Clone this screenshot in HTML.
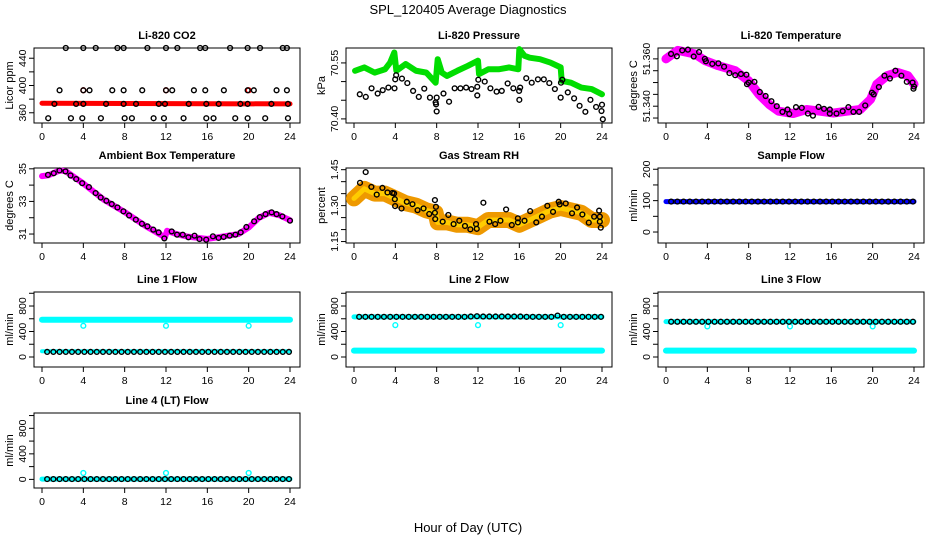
<!DOCTYPE html>
<html><head><meta charset="utf-8"><style>
body{margin:0;background:#fff}
svg{display:block;font-family:"Liberation Sans",sans-serif}
</style></head><body>
<svg id="c" width="936" height="540" viewBox="0 0 936 540">
<rect width="936" height="540" fill="#fff"/>
<text x="468" y="14" text-anchor="middle" font-size="13">SPL_120405  Average Diagnostics</text>
<text x="468" y="532" text-anchor="middle" font-size="13">Hour of Day (UTC)</text>
</svg>
<script>
// ---- data ----
const xTicks=[0,4,8,12,16,20,24];
const co2Hours=[2.3,4.0,5.2,7.3,7.9,10.2,12.0,13.1,15.3,15.8,18.2,19.9,21.1,23.3,23.7,1.7,4.0,4.6,6.8,7.9,9.7,12.0,12.6,14.7,15.8,17.6,19.9,20.5,22.7,23.7,1.2,3.3,4.0,6.2,7.9,9.1,11.3,11.9,14.2,15.9,17.1,19.2,19.9,22.2,23.8,0.6,2.8,3.9,5.7,8.0,8.7,10.8,11.8,13.7,15.9,16.6,18.7,19.9,21.6,23.8];
const co2Values=[455,455,455,455,455,455,455,455,455,455,455,455,455,455,455,393,393,393,393,393,393,393,393,393,393,393,393,393,393,393,373,373,373,373,373,373,373,373,373,373,373,373,373,373,373,352,352,352,352,352,352,352,352,352,352,352,352,352,352,352];
const co2BandHours=[0,24];
const co2BandValues=[374,373];
const co2RedHours=[4.0,12.0,20.0];
const co2RedValues=[393,393,393];
const presBandHours=[0.1,1,2,3,3.5,3.9,4.1,5,6,7,7.9,8.1,8.5,9,10,11,12,12.1,13,14,15,15.9,16.0,16.5,17,18,19,20,20.1,21,22,23,24];
const presBandValues=[70.529,70.538,70.524,70.533,70.551,70.578,70.529,70.547,70.529,70.524,70.497,70.560,70.524,70.515,70.529,70.542,70.556,70.520,70.533,70.533,70.538,70.533,70.587,70.569,70.564,70.560,70.551,70.538,70.502,70.497,70.484,70.480,70.466];
const presHours=[0.56,1.14,1.7,2.29,2.78,3.33,3.92,3.99,4.08,4.64,5.16,5.72,6.27,6.8,7.35,7.9,7.94,8.0,8.0,8.66,9.2,9.74,10.3,10.85,11.37,11.93,11.93,12.03,12.65,13.2,13.8,14.3,14.87,15.42,15.98,16.0,16.08,16.67,17.2,17.8,18.37,18.9,19.44,20.0,20.03,20.16,20.69,21.3,21.83,22.39,22.88,23.43,23.95,24.0,24.08];
const presValues=[70.466,70.459,70.482,70.468,70.477,70.484,70.482,70.506,70.517,70.508,70.496,70.475,70.459,70.481,70.457,70.444,70.439,70.457,70.420,70.468,70.446,70.482,70.482,70.484,70.480,70.486,70.463,70.505,70.500,70.482,70.473,70.475,70.495,70.482,70.475,70.451,70.484,70.509,70.497,70.506,70.506,70.496,70.480,70.457,70.497,70.505,70.471,70.455,70.435,70.419,70.451,70.432,70.421,70.438,70.399];
const tempBandHours=[0,1.14,2.78,3.76,5.07,6.7,8.0,9.0,10.0,10.9,12.3,13.6,14.9,16.2,17.5,18.8,19.8,20.4,21.4,22.4,23.4,24];
const tempBandValues=[51.3600,51.3636,51.3621,51.3593,51.3571,51.3550,51.3507,51.3450,51.3407,51.3379,51.3369,51.3386,51.3379,51.3371,51.3379,51.3386,51.3429,51.3493,51.3529,51.3543,51.3529,51.3493];
const tempHours=[0.49,1.05,1.57,2.12,2.68,3.2,3.76,3.86,4.48,5.07,5.62,6.14,6.7,7.25,7.78,7.84,8.0,8.56,9.08,9.64,10.2,10.72,11.27,11.76,11.93,12.58,13.14,13.73,14.22,14.77,15.29,15.85,15.85,16.5,17.1,17.65,18.14,18.69,19.28,19.93,20.1,20.6,21.14,21.67,22.2,22.78,23.3,23.86,23.95,24.0];
const tempValues=[51.3621,51.3611,51.3636,51.3639,51.3610,51.3629,51.3600,51.3590,51.3579,51.3581,51.3567,51.3540,51.3531,51.3536,51.3533,51.3493,51.3500,51.3503,51.3460,51.3443,51.3421,51.3400,51.3376,51.3386,51.3367,51.3396,51.3393,51.3369,51.3360,51.3397,51.3389,51.3369,51.3386,51.3369,51.3379,51.3396,51.3376,51.3376,51.3403,51.3457,51.3450,51.3481,51.3529,51.3517,51.3550,51.3529,51.3503,51.3500,51.3474,51.3483];
const ambBandHours=[0,0.6,1.7,2.3,4,6,8,10,11.9,12.1,13,14,16,17,19,20,21,22,23,24];
const ambBandValues=[34.55,34.6,34.9,34.85,34.1,33.1,32.35,31.5,30.8,31.2,31.0,30.85,30.7,30.8,31.0,31.4,32.0,32.3,32.15,31.85];
const ambHours=[0.58,1.14,1.69,2.27,2.76,3.31,3.89,4.54,5.19,5.68,6.23,6.75,7.3,7.88,8.43,9.08,9.67,10.2,10.77,11.29,11.84,12.55,13.07,13.62,14.17,14.76,15.24,15.89,16.54,17.09,17.58,18.16,18.72,19.23,19.78,20.53,21.08,21.63,22.22,22.7,23.26,24];
const ambValues=[34.63,34.73,34.9,34.84,34.59,34.37,34.12,33.88,33.51,33.24,33.04,32.84,32.63,32.39,32.14,31.88,31.63,31.47,31.27,31.10,30.73,31.16,30.96,30.96,30.8,30.9,30.69,30.65,30.86,30.76,30.82,30.9,30.96,31.1,31.43,31.78,32.04,32.22,32.33,32.22,32.08,31.82];
const rhBandHours=[0,1,2,3,4,5,6,7,7.9,8.1,9,10,11,12,13,14,15,16,17,18,19,20,21,22,23,24];
const rhBandValues=[1.33,1.37,1.35,1.35,1.33,1.31,1.30,1.28,1.27,1.23,1.23,1.22,1.22,1.21,1.24,1.24,1.24,1.22,1.24,1.26,1.28,1.29,1.28,1.27,1.24,1.24];
const rhHours=[0.58,1.13,1.68,2.2,2.75,3.24,3.72,3.88,3.95,3.98,4.6,5.11,5.66,6.15,6.73,7.28,7.83,7.83,7.86,7.93,8.58,9.13,9.64,10.19,10.74,11.26,11.81,11.88,12.52,13.11,13.66,14.17,14.72,15.27,15.86,15.86,16.5,17.05,17.64,18.19,18.71,19.26,19.81,19.9,20.49,21.1,21.59,22.1,22.72,23.24,23.72,23.79,23.88,23.79];
const rhValues=[1.395,1.440,1.378,1.346,1.374,1.355,1.353,1.351,1.327,1.298,1.288,1.316,1.306,1.281,1.288,1.265,1.270,1.323,1.244,1.295,1.233,1.261,1.223,1.237,1.215,1.201,1.223,1.203,1.312,1.233,1.223,1.237,1.284,1.219,1.230,1.247,1.237,1.277,1.230,1.254,1.299,1.274,1.316,1.305,1.309,1.268,1.292,1.263,1.229,1.254,1.279,1.233,1.208,1.254];
const flowHours=[0.5,1.1,1.7,2.3,2.9,3.5,4.1,4.7,5.3,5.9,6.5,7.1,7.7,8.3,8.9,9.5,10.1,10.7,11.3,11.9,12.5,13.1,13.7,14.3,14.9,15.5,16.1,16.7,17.3,17.9,18.5,19.1,19.7,20.3,20.9,21.5,22.1,22.7,23.3,23.9];
const sampleFlowValues=[97,97,97,97,97,97,97,97,97,97,97,97,97,97,97,97,97,97,97,97,97,97,97,97,97,97,97,97,97,97,97,97,97,97,97,97,97,97,97,97];
const line1Values=[80,80,80,80,80,80,80,80,80,80,80,80,80,80,80,80,80,80,80,80,80,80,80,80,80,80,80,80,80,80,80,80,80,80,80,80,80,80,80,80];
const line2Values=[630,630,630,630,630,630,630,630,630,630,630,630,630,630,630,630,630,630,635,640,635,635,635,635,635,635,635,630,630,630,630,630,650,630,630,630,630,630,630,630];
const line3Values=[553,553,553,553,553,553,553,553,553,553,553,553,553,553,553,553,553,553,553,553,553,553,553,553,553,553,553,553,553,553,553,553,553,553,553,553,553,553,553,553];
const line4Values=[5,5,5,5,5,5,5,5,5,5,5,5,5,5,5,5,5,5,5,5,5,5,5,5,5,5,5,5,5,5,5,5,5,5,5,5,5,5,5,5];
const bandEndHours=[0,24];
const sampleBand=[97,97];
const line1HighBand=[585,585];
const line1LowBand=[90,90];
const line2HighBand=[630,630];
const line2LowBand=[100,100];
const line3HighBand=[555,555];
const line3LowBand=[100,100];
const line4Band=[5,5];
const outlierHours=[4.0,12.0,20.0];
const line1Outliers=[490,490,490];
const line2Outliers=[500,500,500];
const line3Outliers=[480,480,480];
const line4Outliers=[100,100,100];

// ---- drawing ----
const NS='http://www.w3.org/2000/svg';
const svg=document.getElementById('c');
function mk(tag,attrs,parent){const e=document.createElementNS(NS,tag);for(const k in attrs)e.setAttribute(k,attrs[k]);(parent||svg).appendChild(e);return e;}
const rowTop=[48,168,292,413];
const BH=75;
function panel(name,col,row,title,ylab,ymin,ymax,yticks,ylabels){
  const g=mk('g',{});
  
  
  const L=34+312*col, T=rowTop[row], B=T+BH;
  const sx=h=>42+312*col+h*248/24;
  const sy=v=>B-(v-ymin)/(ymax-ymin)*BH;
  const t=mk('text',{x:L+133,y:T-9,'text-anchor':'middle','font-size':11,'font-weight':'bold'},g);t.textContent=title;
  
  
  const yl=mk('text',{x:0,y:0,'text-anchor':'middle','font-size':11,transform:`translate(${312*col+13},${T+BH/2}) rotate(-90)`},g);yl.textContent=ylab;
  
  
  const box=mk('rect',{x:L,y:T,width:266,height:BH,fill:'none',stroke:'#000','stroke-width':1},g);
  
  
  xTicks.forEach(h=>{
    mk('line',{x1:sx(h),x2:sx(h),y1:B,y2:B+5,stroke:'#000'},g);
    const tx=mk('text',{x:sx(h),y:B+17,'text-anchor':'middle','font-size':10.5},g);tx.textContent=h;
    
    
  });
  yticks.forEach(v=>{
    const y=sy(v); if(y<T-1||y>B+1)return;
    mk('line',{x1:L,x2:L-5,y1:y,y2:y,stroke:'#000'},g);
  });
  ylabels.forEach((s,i)=>{
    const v=parseFloat(s);
    const ty=mk('text',{x:0,y:0,'text-anchor':'middle','font-size':10.5,transform:`translate(${L-8},${sy(v)}) rotate(-90)`},g);ty.textContent=s;
    
    
  });
  return {g,sx,sy};
}
function band(p,hours,vals,color,w,name){
  const pts=hours.map((h,i)=>p.sx(h)+','+p.sy(vals[i])).join(' ');
  const e=mk('polyline',{points:pts,fill:'none',stroke:color,'stroke-width':w,'stroke-linejoin':'round','stroke-linecap':'round'},p.g);
  
  
}
function pts(p,hours,vals,color,name,r){
  hours.forEach((h,i)=>{
    const c=mk('circle',{cx:p.sx(h),cy:p.sy(vals[i]),r:r||2.4,fill:'none',stroke:color,'stroke-width':1.4},p.g);
    
    
  });
}

let p;
p=panel('co2-panel',0,0,'Li-820 CO2','Licor ppm',345,455,[360,380,400,420,440],['360','400','440']);
band(p,co2BandHours,co2BandValues,'#ff0000',5,'co2-band');
pts(p,co2RedHours,co2RedValues,'#ff0000','co2-red-point');
pts(p,co2Hours,co2Values,'#000','co2-point');

p=panel('pressure-panel',1,0,'Li-820 Pressure','kPa',70.389,70.590,[70.40,70.45,70.50,70.55],['70.40','70.55']);
band(p,presBandHours,presBandValues,'#00dd00',6,'pressure-band');
pts(p,presHours,presValues,'#000','pressure-point');

p=panel('temperature-panel',2,0,'Li-820 Temperature','degrees C',51.3329,51.3646,[51.335,51.340,51.345,51.350,51.355,51.360],['51.340','51.360']);
band(p,tempBandHours,tempBandValues,'#ff00ff',9,'temperature-band');
pts(p,tempHours,tempValues,'#000','temperature-point');

p=panel('ambient-panel',0,1,'Ambient Box Temperature','degrees C',30.45,35.05,[31,32,33,34,35],['31','33','35']);
band(p,ambBandHours,ambBandValues,'#ff00ff',6,'ambient-band');
pts(p,ambHours,ambValues,'#000','ambient-point');

p=panel('rh-panel',1,1,'Gas Stream RH','percent',1.144,1.457,[1.15,1.20,1.25,1.30,1.35,1.40,1.45],['1.15','1.30','1.45']);
band(p,rhBandHours,rhBandValues,'#ee9900',16,'rh-band');
band(p,rhBandHours,rhBandValues,'#ffcc00',5,'rh-band-core');
pts(p,rhHours,rhValues,'#000','rh-point');

p=panel('sample-flow-panel',2,1,'Sample Flow','ml/min',-35,204,[0,50,100,150,200],['0','100','200']);
band(p,bandEndHours,sampleBand,'#0000ff',5,'sample-flow-band');
pts(p,flowHours,sampleFlowValues,'#000','sample-flow-point');

p=panel('line1-panel',0,2,'Line 1 Flow','ml/min',-157,1020,[0,200,400,600,800,1000],['0','400','800']);
band(p,bandEndHours,line1HighBand,'#00ffff',6,'line1-high-band');
band(p,bandEndHours,line1LowBand,'#00ffff',4,'line1-low-band');
pts(p,outlierHours,line1Outliers,'#00ffff','line1-outlier');
pts(p,flowHours,line1Values,'#000','line1-point');

p=panel('line2-panel',1,2,'Line 2 Flow','ml/min',-157,1020,[0,200,400,600,800,1000],['0','400','800']);
band(p,bandEndHours,line2HighBand,'#00ffff',5,'line2-high-band');
band(p,bandEndHours,line2LowBand,'#00ffff',6,'line2-low-band');
pts(p,outlierHours,line2Outliers,'#00ffff','line2-outlier');
pts(p,flowHours,line2Values,'#000','line2-point');

p=panel('line3-panel',2,2,'Line 3 Flow','ml/min',-157,1020,[0,200,400,600,800,1000],['0','400','800']);
band(p,bandEndHours,line3HighBand,'#00ffff',5,'line3-high-band');
band(p,bandEndHours,line3LowBand,'#00ffff',6,'line3-low-band');
pts(p,outlierHours,line3Outliers,'#00ffff','line3-outlier');
pts(p,flowHours,line3Values,'#000','line3-point');

p=panel('line4-panel',0,3,'Line 4 (LT) Flow','ml/min',-135,1040,[0,200,400,600,800,1000],['0','400','800']);
band(p,bandEndHours,line4Band,'#00ffff',5,'line4-band');
pts(p,outlierHours,line4Outliers,'#00ffff','line4-outlier');
pts(p,flowHours,line4Values,'#000','line4-point');
</script>
</body></html>
